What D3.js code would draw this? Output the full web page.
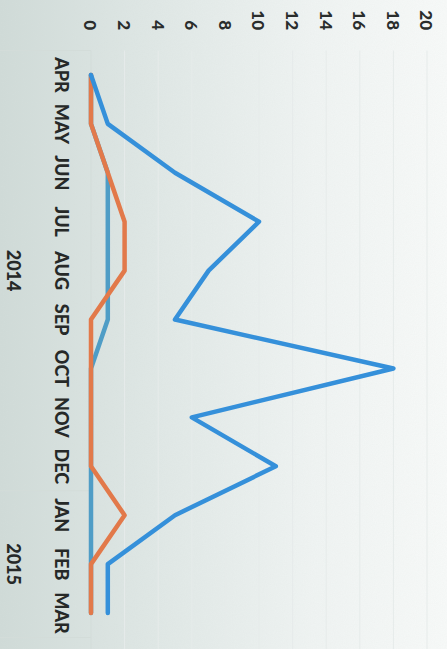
<!DOCTYPE html>
<html>
<head>
<meta charset="utf-8">
<script src="https://cdn.jsdelivr.net/npm/d3@7"></script>
<style>
  html, body { margin: 0; padding: 0; background: #e8eeec; }
  svg { display: block; }
</style>
</head>
<body>
<script>
// ---- data ----
const months = ["APR","MAY","JUN","JUL","AUG","SEP","OCT","NOV","DEC","JAN","FEB","MAR"];
const yearLabels = ["2014","2015"];
const yearFirst = ["APR","JAN"];
const yearLast = ["DEC","MAR"];
const seriesBlue = [0,1,5,10,7,5,18,6,11,5,1,1];
const seriesOrange = [0,0,1,2,2,0,0,0,0,2,0,0];
const seriesTeal = [0,0,1,1,1,1,0,0,0,0,0,0];
const yTicks = [0,2,4,6,8,10,12,14,16,18,20];

const W = 447, H = 649;
const svg = d3.select("body").append("svg").attr("width", W).attr("height", H);

// background (photo-like paper gradient)
const defs = svg.append("defs");
const grad = defs.append("linearGradient").attr("id","bg").attr("x1","0").attr("x2","1").attr("y1","0").attr("y2","0");
grad.append("stop").attr("offset","0").attr("stop-color","#d0dbd8");
grad.append("stop").attr("offset","0.35").attr("stop-color","#e0e8e6");
grad.append("stop").attr("offset","0.7").attr("stop-color","#f0f4f3");
grad.append("stop").attr("offset","1").attr("stop-color","#f8faf9");
const filt = defs.append("filter").attr("id","noise");
filt.append("feTurbulence").attr("type","fractalNoise").attr("baseFrequency","0.9").attr("numOctaves","2").attr("result","n");
filt.append("feColorMatrix").attr("type","matrix")
  .attr("values","0 0 0 0 0.55  0 0 0 0 0.6  0 0 0 0 0.58  0 0 0 0.10 0");
svg.append("rect").attr("width",W).attr("height",H).attr("fill","url(#bg)");
svg.append("rect").attr("width",W).attr("height",H).attr("filter","url(#noise)");

// chart drawn unrotated (649 wide x 447 tall), then rotated 90deg clockwise
const g = svg.append("g").attr("transform", `translate(${W},0) rotate(90)`);

const x = d3.scaleBand().domain(months).range([50.5, 637.5]);
const xc = m => x(m) + x.bandwidth()/2;
const y = d3.scaleLinear().domain([0,20]).range([356, 20]);

const font = "Lato, 'Open Sans', sans-serif";

// gridlines
g.append("g").selectAll("line").data(yTicks).join("line")
  .attr("x1", 50.5).attr("x2", 649)
  .attr("y1", d => y(d)).attr("y2", d => y(d))
  .attr("stroke", d => d === 0 ? "#d3dcd9" : "#e6ebea").attr("stroke-width", 1);

// value axis labels
const yAxis = d3.axisLeft(y).tickValues(yTicks).tickSize(0).tickPadding(0);
const ya = g.append("g").attr("transform","translate(30,0)").call(yAxis);
ya.select(".domain").remove();
ya.selectAll("text").attr("font-family",font).attr("font-weight","900")
  .attr("font-size", 17).attr("fill","#2a2d2c").attr("dy","0.36em");

// category axis (months)
const xAxis = d3.axisBottom(x).tickSize(0).tickPadding(0);
const xa = g.append("g").attr("transform","translate(0,379)").call(xAxis);
xa.select(".domain").remove();
xa.selectAll("text").attr("font-family",font).attr("font-weight","900")
  .attr("font-size", 18).attr("fill","#262928").attr("dy","0.72em");

// year group dividers and labels
const dividers = [x(yearFirst[0]), x(yearFirst[1]), x(yearLast[1]) + x.bandwidth()];
g.append("g").selectAll("line").data(dividers).join("line")
  .attr("x1", d => d).attr("x2", d => d).attr("y1", 356).attr("y2", 447)
  .attr("stroke", "#d3dcd9").attr("stroke-width", 1);
g.append("g").selectAll("text").data(yearLabels).join("text")
  .attr("x", (d,i) => (x(yearFirst[i]) + x(yearLast[i]) + x.bandwidth())/2)
  .attr("y", 440)
  .attr("text-anchor","middle")
  .attr("font-family",font).attr("font-weight","900")
  .attr("font-size", 18).attr("fill","#262928")
  .text(d => d);

// lines
const line = d3.line().x((d,i) => xc(months[i])).y(d => y(d));
const series = [
  {values: seriesTeal, color: "#4f9dc6"},
  {values: seriesOrange, color: "#e2794a"},
  {values: seriesBlue, color: "#3590da"}
];
g.append("g").selectAll("path").data(series).join("path")
  .attr("d", d => line(d.values))
  .attr("fill","none")
  .attr("stroke", d => d.color)
  .attr("stroke-width", 4.5)
  .attr("stroke-linejoin","round")
  .attr("stroke-linecap","round");
</script>
</body>
</html>
